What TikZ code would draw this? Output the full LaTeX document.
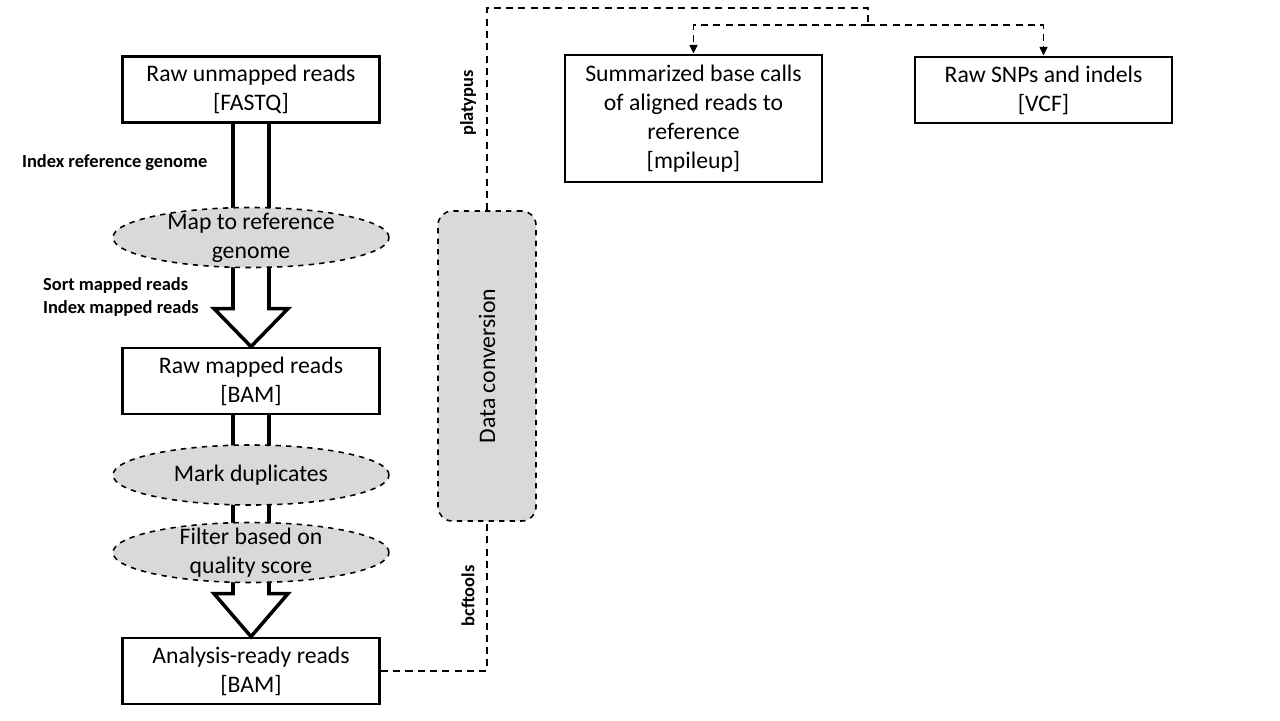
\documentclass[tikz,border=0pt]{standalone}
\usepackage{fontspec}
\setmainfont{Carlito}
\usetikzlibrary{positioning,arrows.meta,calc,backgrounds,shapes.geometric}

\begin{document}
\begin{tikzpicture}[
    x=0.02cm, y=-0.02cm,
    font=\fontsize{13.5}{16.4}\selectfont,
    % data files (solid boxes)
    datafile/.style={draw, line width=1.6pt, align=center, inner sep=2pt,
                     minimum width=5.14cm, minimum height=1.32cm},
    % processing steps (dashed grey ellipses)
    process/.style={ellipse, draw, dashed, line width=0.9pt, fill=gray!30,
                    align=center, inner sep=-2.5pt,
                    minimum width=5.52cm, minimum height=1.2cm},
    convbox/.style={draw, dashed, line width=0.9pt, fill=gray!30, rounded corners=8pt,
                    minimum width=1.96cm, minimum height=6.2cm, inner sep=0pt},
    % big hollow arrows of the main pipeline
    shaft/.style={line width=2pt},
    hollow/.style={line width=2pt, fill=white, line join=miter},
    % tool names
    toollabel/.style={font=\fontsize{10.5}{13.6}\selectfont\bfseries, align=left, inner sep=1pt},
    link/.style={line width=1pt, dash pattern=on 4pt off 3pt},
    linkarr/.style={link, -{Triangle[length=5pt,width=4.5pt]}}
  ]
  \useasboundingbox (0,0) rectangle (1280,720);

  % ===================== main pipeline =====================
  \node[datafile] (raw) at (251,89.5) {Raw unmapped reads\\{[FASTQ]}};
  \node[process] (map) at (251,237.5) {Map to reference\\genome};
  \node[datafile] (rawbam) at (251,381) {Raw mapped reads\\{[BAM]}};
  \node[process] (markdup) at (251,475) {Mark duplicates};
  \node[process] (filter) at (251,552.5) {Filter based on\\quality score};
  \node[datafile] (ready) at (251,671) {Analysis-ready reads\\{[BAM]}};

  \node[toollabel, anchor=west] (idxref) at (20,163) {Index reference genome};
  \node[toollabel, anchor=west] (sortidx) at (41,297) {Sort mapped reads\\Index mapped reads};

  % shafts and heads sit behind the ellipses
  \begin{scope}[on background layer]
    \draw[shaft] ($(raw.south)+(-18,0)$) -- ($(map.center)+(-18,0)$);
    \draw[shaft] ($(raw.south)+(18,0)$) -- ($(map.center)+(18,0)$);
    \draw[shaft] ($(rawbam.south)+(-18,0)$) -- ($(filter.center)+(-18,0)$);
    \draw[shaft] ($(rawbam.south)+(18,0)$) -- ($(filter.center)+(18,0)$);
    \draw[hollow] ($(map.center)+(-18,0)$) -- ($(rawbam.north)+(-18,-38)$) -- ++(-19,0)
      -- (rawbam.north) -- ($(rawbam.north)+(37,-38)$) -- ++(-19,0) -- ($(map.center)+(18,0)$);
    \draw[hollow] ($(filter.center)+(-18,0)$) -- ($(ready.north)+(-18,-43)$) -- ++(-19,0)
      -- (ready.north) -- ($(ready.north)+(37,-43)$) -- ++(-19,0) -- ($(filter.center)+(18,0)$);
  \end{scope}

  % ===================== conversion and outputs =====================
  \node[convbox] (dataconv) at (487,366) {\rotatebox{90}{Data conversion}};
  \node[toollabel, rotate=90] (platypus) at (468,103) {platypus};
  \node[toollabel, rotate=90] (bcftools) at (468,596) {bcftools};

  \node[datafile, minimum height=2.54cm] (mpileup) at (693.5,118.5)
    {Summarized base calls\\of aligned reads to\\reference\\{[mpileup]}};
  \node[datafile] (vcf) at (1043.5,90) {Raw SNPs and indels\\{[VCF]}};

  \coordinate (toprow) at (0,8);
  \coordinate (split) at (868,25);

  \draw[link] (ready.east) -| (dataconv.south);
  \draw[link] (dataconv.north) -- (dataconv.north |- toprow) -| (split);
  \draw[linkarr] (split) -| (mpileup.north);
  \draw[linkarr] (split) -| (vcf.north);

\end{tikzpicture}
\end{document}
